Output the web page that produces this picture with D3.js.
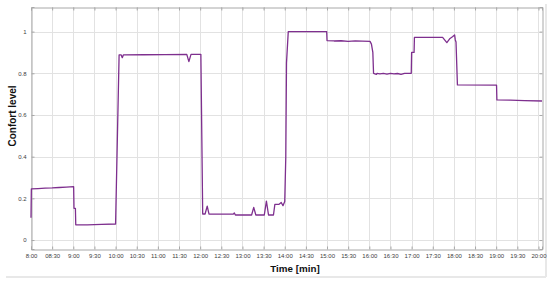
<!DOCTYPE html>
<html>
<head>
<meta charset="utf-8">
<script src="https://cdn.jsdelivr.net/npm/d3@7"></script>
<style>
  html, body { margin: 0; padding: 0; background: #fff; }
  svg { display: block; font-family: "Liberation Sans", Arial, sans-serif; }
</style>
</head>
<body>
<svg id="chart" width="550" height="281"></svg>
<script>
// Minutes after 8:00
const timeMinutes = [0, 0.5, 10, 20, 30, 40, 50, 60.5, 61, 63, 63.5, 80, 100, 120,
  125, 128, 129.5, 131, 160, 190, 221, 224, 227, 241,
  243.6, 247, 250, 252.5, 287, 288.5, 290, 313, 316, 319, 331, 334, 337, 344, 346, 351.5, 355, 357.5, 360,
  361.5, 362.5, 365, 419.5, 420, 430, 440, 450, 460, 470, 481,
  483, 485, 486, 490, 491, 495, 500, 505, 510, 515, 520, 525, 530, 539.5,
  540, 543.5, 544, 560, 584, 590, 594.5, 598, 601, 602, 603, 605,
  660.5, 661, 680, 700, 725];
const comfortLevel = [0.107, 0.245, 0.247, 0.249, 0.25, 0.252, 0.254, 0.256, 0.152, 0.152, 0.073, 0.073, 0.075, 0.077,
  0.888, 0.888, 0.875, 0.888, 0.889, 0.89, 0.891, 0.856, 0.891, 0.891,
  0.125, 0.125, 0.163, 0.125, 0.124, 0.13, 0.12, 0.12, 0.157, 0.12, 0.12, 0.187, 0.12, 0.12, 0.171, 0.171, 0.18, 0.165, 0.185,
  0.4, 0.85, 1.0, 1.0, 0.957, 0.955, 0.956, 0.953, 0.955, 0.954, 0.953,
  0.94, 0.9, 0.80, 0.795, 0.80, 0.797, 0.80, 0.796, 0.80, 0.797, 0.799, 0.795, 0.80, 0.80,
  0.90, 0.90, 0.972, 0.972, 0.972, 0.947, 0.967, 0.975, 0.984, 0.96, 0.95, 0.744,
  0.743, 0.672, 0.671, 0.669, 0.667];
const xTickValues = [0, 30, 60, 90, 120, 150, 180, 210, 240, 270, 300, 330, 360, 390, 420, 450, 480, 510, 540, 570, 600, 630, 660, 690, 720];
const xTickLabels = ["8:00", "08:30", "9:00", "9:30", "10:00", "10:30", "11:00", "11:30", "12:00", "12:30", "13:00", "13:30", "14:00", "14:30", "15:00", "15:30", "16:00", "16:30", "17:00", "17:30", "18:00", "18:30", "19:00", "19:30", "20:00"];
const yTickValues = [0, 0.2, 0.4, 0.6, 0.8, 1];
const yTickLabels = ["0", "0.2", "0.4", "0.6", "0.8", "1"];

const svg = d3.select("#chart");
const L = 31, R = 542, T = 7, B = 249;
const x = d3.scaleLinear().domain([0, 725]).range([L, R]);
const y = d3.scaleLinear().domain([-0.043, 1.118]).range([B, T]);

// figure shadow
svg.append("line").attr("x1", 6).attr("x2", 546).attr("y1", 277).attr("y2", 277)
  .attr("stroke", "#e8e8e8").attr("stroke-width", 2);
svg.append("line").attr("x1", 546).attr("x2", 546).attr("y1", 4).attr("y2", 277)
  .attr("stroke", "#e8e8e8").attr("stroke-width", 2);

// grid
const grid = svg.append("g");
grid.selectAll(".vg").data(xTickValues).join("line")
  .attr("x1", d => Math.round(x(d)) + 0.5).attr("x2", d => Math.round(x(d)) + 0.5)
  .attr("y1", T).attr("y2", B).attr("stroke", "#e2e2e2").attr("stroke-width", 1);
grid.selectAll(".hg").data(yTickValues).join("line")
  .attr("y1", d => Math.round(y(d)) + 0.5).attr("y2", d => Math.round(y(d)) + 0.5)
  .attr("x1", L).attr("x2", R).attr("stroke", "#e2e2e2").attr("stroke-width", 1);

// axes
const xAxis = d3.axisBottom(x).tickValues(xTickValues)
  .tickFormat((d, i) => xTickLabels[i]).tickSize(-3).tickPadding(4);
const gx = svg.append("g").attr("transform", `translate(0,${B + 0.5})`).call(xAxis);
const yAxis = d3.axisLeft(y).tickValues(yTickValues)
  .tickFormat((d, i) => yTickLabels[i]).tickSize(-3).tickPadding(5);
const gy = svg.append("g").attr("transform", `translate(${L + 0.5},0)`).call(yAxis);
const gxt = svg.append("g").attr("transform", `translate(0,${T + 0.5})`)
  .call(d3.axisTop(x).tickValues(xTickValues).tickFormat("").tickSize(-3));
const gyr = svg.append("g").attr("transform", `translate(${R + 0.5},0)`)
  .call(d3.axisRight(y).tickValues(yTickValues).tickFormat("").tickSize(-3));
[gx, gy, gxt, gyr].forEach(g => {
  g.select(".domain").attr("stroke", "#a8a8a8");
  g.selectAll(".tick line").attr("stroke", "#a8a8a8");
  g.selectAll(".tick text").attr("fill", "#404040").attr("font-size", 6)
    .attr("font-family", "'Liberation Sans', Arial, sans-serif");
});

// line
const pts = timeMinutes.map((t, i) => [t, comfortLevel[i]]);
svg.append("path").datum(pts)
  .attr("fill", "none").attr("stroke", "#7E2F8E").attr("stroke-width", 1.3)
  .attr("stroke-linejoin", "round")
  .attr("d", d3.line().x(d => x(d[0])).y(d => y(d[1])));

// labels
svg.append("text").attr("x", 295).attr("y", 271.5).attr("text-anchor", "middle")
  .attr("font-size", 9.8).attr("font-weight", "bold").attr("fill", "#111").text("Time [min]");
svg.append("text").attr("transform", "translate(16,116) rotate(-90)").attr("text-anchor", "middle")
  .attr("font-size", 10).attr("font-weight", "bold").attr("fill", "#111").text("Confort level");
</script>
</body>
</html>
